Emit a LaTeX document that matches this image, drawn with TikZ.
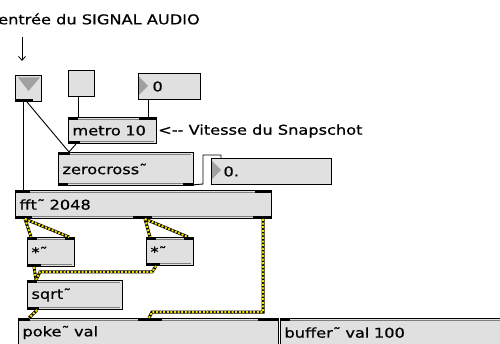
\documentclass[tikz,border=0pt]{standalone}
\usepackage{fontspec}
\setmainfont{DejaVu Sans}[FakeStretch=1.2,FakeBold=0.6]
\usetikzlibrary{calc,arrows.meta}
\definecolor{boxfill}{HTML}{E0E0E0}
\definecolor{trigray}{HTML}{A0A0A0}
\definecolor{cordyellow}{HTML}{F2E000}
\tikzset{
  mbox/.style={draw=black, line width=1pt, fill=boxfill, anchor=north west,
    inner xsep=4pt, inner ysep=0pt, align=left, font=\fontsize{13.5}{14}\selectfont},
  plainbox/.style={draw=black, line width=1pt, fill=boxfill, anchor=north west, inner sep=0pt},
  cord/.style={draw=black, line width=0.9pt},
  sig/.style={draw=cordyellow, line width=2pt, dash pattern=on 2pt off 1.6pt,
    preaction={draw=black, solid, line width=3pt}},
  bar/.style={fill=black},
  innerline/.style={draw=gray, line width=0.6pt},
  lbl/.style={font=\fontsize{13.5}{14}\selectfont, inner sep=0pt, anchor=west},
}
% object box: [opts]{name}{x1}{y1}{x2}{y2}{text}
\newcommand\mobj[7][]{%
  \pgfmathsetmacro\mobjtw{#5-#3-8}%
  \pgfmathsetmacro\mobjh{#6-#4}%
  \node[mbox,#1,minimum height=\mobjh pt,text width=\mobjtw pt] (#2) at (#3,#4) {#7};
  \draw[innerline] ($(#2.north west)+(3,2.5)$) -- ($(#2.north east)+(-3,2.5)$);
  \draw[innerline] ($(#2.south west)+(3,-2.5)$) -- ($(#2.south east)+(-3,-2.5)$);
}
\newcommand\tbar[3]{\fill[bar] ($(#1.north west)+(#2,0)$) rectangle ($(#1.north west)+(#3,3)$);}
\newcommand\bbar[3]{\fill[bar] ($(#1.south west)+(#2,0)$) rectangle ($(#1.south west)+(#3,-3)$);}
\begin{document}
\begin{tikzpicture}[x=1pt,y=-1pt]
\useasboundingbox[fill=white] (0,0) rectangle (500,344);

% title and arrow
\node[lbl] (title) at (-2,19) {entrée du SIGNAL AUDIO};
\coordinate (a1) at (22,37);
\coordinate (a2) at (22,61);
\draw[line width=0.8pt, -{Straight Barb[length=4pt,width=7pt]}] (a1) -- (a2);

% signal inlet box
\node[plainbox, minimum width=26pt, minimum height=26pt] (in) at (15,75) {};
\fill[trigray] ($(in.north west)+(3,2.5)$) -- ($(in.north east)+(-2,2.5)$) -- ($(in.north west)+(13.5,16)$) -- cycle;
\fill[bar] ($(in.south west)+(0,0)$) rectangle ($(in.south west)+(18,-3)$);

% toggle box
\node[plainbox, minimum width=26pt, minimum height=26pt] (tog) at (68,70) {};

% number box 1
\node[mbox, minimum height=26pt, text width=54pt, execute at begin node={\hspace*{10pt}}] (num1) at (138,73) {0};
\fill[trigray] ($(num1.north west)+(1,4)$) -- ($(num1.north west)+(10,13)$) -- ($(num1.north west)+(1,22)$) -- cycle;

% metro
\mobj{metro}{68}{117}{156}{143}{metro 10}
\tbar{metro}{0}{10} \tbar{metro}{71}{88} \bbar{metro}{0}{12}
\node[lbl] (note) at (158,131) {<-{}- Vitesse du Snapschot};

% zerocross
\mobj{zc}{58}{152}{193}{185}{zerocross˜}
\tbar{zc}{0}{12} \bbar{zc}{0}{10} \bbar{zc}{125}{135}

% number box 2
\node[mbox, minimum height=26pt, text width=112pt, execute at begin node={\hspace*{8pt}}] (num2) at (211,158) {0.};
\fill[trigray] ($(num2.north west)+(1,3)$) -- ($(num2.north west)+(10,12)$) -- ($(num2.north west)+(1,21)$) -- cycle;

% fft
\mobj{fft}{15}{190}{271}{218}{fft˜ 2048}
\tbar{fft}{0}{15} \tbar{fft}{240}{256}
\bbar{fft}{0}{17} \bbar{fft}{118}{137} \bbar{fft}{238}{256}

% multipliers
\mobj{mulA}{27}{237}{74}{266}{*˜}
\tbar{mulA}{0}{10} \tbar{mulA}{38}{47} \bbar{mulA}{0}{14}
\mobj{mulB}{146}{237}{193}{265}{*˜}
\tbar{mulB}{0}{10} \tbar{mulB}{38}{47} \bbar{mulB}{0}{14}

% sqrt
\mobj{sqrt}{27}{280}{122}{309}{sqrt˜}
\tbar{sqrt}{0}{10} \bbar{sqrt}{0}{12}

% poke and buffer
\mobj{poke}{18}{318}{278}{346}{poke˜ val}
\tbar{poke}{0}{12} \tbar{poke}{120}{144} \tbar{poke}{240}{260}
\mobj{buf}{280}{318}{505}{346}{buffer˜ val 100}
\tbar{buf}{0}{10}

% control cords
\draw[cord] ($(in.south west)+(8,0)$) -- ($(fft.north west)+(8,0)$);
\draw[cord] ($(in.south west)+(12,0)$) -- ($(zc.north west)+(11,0)$);
\draw[cord] ($(tog.south west)+(10,0)$) -- ($(metro.north west)+(10,0)$);
\draw[cord] ($(num1.south west)+(10,0)$) -- ($(metro.north west)+(80,0)$);
\draw[cord] ($(metro.south west)+(8,0)$) -- ($(zc.north west)+(11,0)$);
\draw[cord] ($(zc.south east)+(-3,-1)$) -- (203,184) -- (203,155) -- (221,155) -- ($(num2.north west)+(10,0)$);

% signal cords
\draw[sig] ($(fft.south west)+(10,0)$) -- ($(mulA.north west)+(4,0)$);
\draw[sig] ($(fft.south west)+(10,0)$) -- ($(mulA.north east)+(-6,0)$);
\draw[sig] ($(fft.south west)+(130,0)$) -- ($(mulB.north west)+(4,0)$);
\draw[sig] ($(fft.south west)+(130,0)$) -- ($(mulB.north east)+(-6,0)$);
\draw[sig] ($(fft.south west)+(248,0)$) -- (263,312) -- (152,312) -- ($(poke.north west)+(131,0)$);
\draw[sig] ($(mulA.south west)+(7,0)$) -- ($(sqrt.north west)+(9,0)$);
\draw[sig] ($(mulB.south west)+(10,0)$) -- (152,272) -- (40,272) -- ($(sqrt.north west)+(9,0)$);
\draw[sig] ($(sqrt.south west)+(10,0)$) -- ($(poke.north west)+(11,0)$);
\end{tikzpicture}
\end{document}
